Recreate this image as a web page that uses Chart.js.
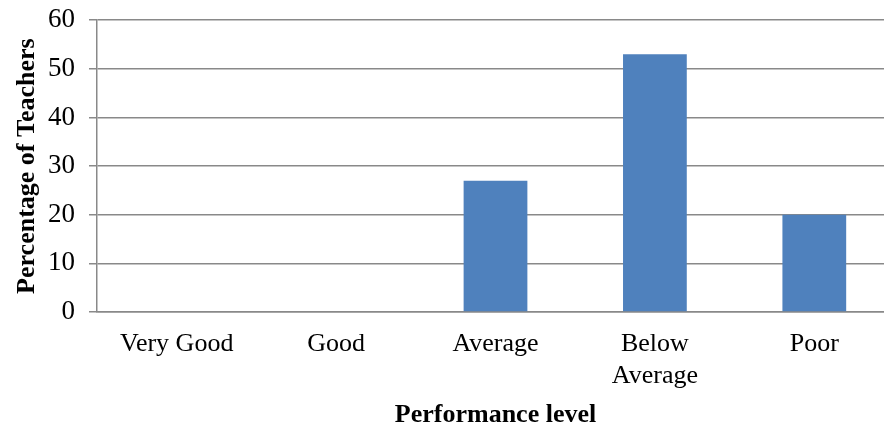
<!DOCTYPE html>
<html>
<head>
<meta charset="utf-8">
<script src="https://cdn.jsdelivr.net/npm/chart.js@4"></script>
<style>
  html, body { margin: 0; padding: 0; background: #fff; overflow: hidden; }
  #wrap { width: 884px; height: 426px; overflow: hidden; position: relative; }
  #perfChart { position: absolute; left: 0; top: -10px; }
</style>
</head>
<body>
<div id="wrap"><canvas id="perfChart" width="894" height="436"></canvas></div>
<script>
const ctx = document.getElementById('perfChart').getContext('2d');

// Chart values
const levels = ['Very Good', 'Good', 'Average', ['Below', 'Average'], 'Poor'];
const teachers = [0, 0, 27, 53, 20];
const yTicks = [0, 10, 20, 30, 40, 50, 60];

const gridColor = '#898989';
const serif = '"Liberation Serif", "Times New Roman", serif';

let chart = new Chart(ctx, {
  type: 'bar',
  data: {
    labels: levels,
    datasets: [
      {
        label: 'Percentage of Teachers',
        data: teachers,
        backgroundColor: '#4f81bd',
        borderWidth: 0,
        barPercentage: 1,
        categoryPercentage: 0.4
      }
    ]
  },
  options: {
    responsive: false,
    animation: false,
    layout: { padding: { top: 10, right: 0, left: 0, bottom: 0 } },
    plugins: { legend: { display: false }, tooltip: { enabled: false } },
    scales: {
      x: {
        grid: { display: false, drawTicks: false },
        border: { display: true, color: gridColor, width: 1.5 },
        ticks: {
          color: '#000',
          padding: 17,
          maxRotation: 0,
          autoSkip: false,
          font: { family: serif, size: 26, lineHeight: 1.2 }
        },
        title: {
          display: true,
          text: 'Performance level',
          color: '#000',
          padding: { top: 0, bottom: 0 },
          font: { family: serif, size: 26, weight: 'bold', lineHeight: 0.8 }
        },
        afterFit: (scale) => { scale.height = 114; }
      },
      y: {
        min: 0,
        max: 60,
        afterBuildTicks: (scale) => { scale.ticks = yTicks.map(v => ({ value: v })); },
        grid: { color: gridColor, lineWidth: 1.5, tickLength: 8, drawTicks: true },
        border: { display: true, color: gridColor, width: 1.5 },
        ticks: {
          color: '#000',
          padding: 14,
          font: { family: serif, size: 27 }
        },
        title: {
          display: true,
          text: 'Percentage of Teachers',
          color: '#000',
          padding: { top: 12, bottom: 0 },
          font: { family: serif, size: 26, weight: 'bold' }
        },
        afterFit: (scale) => { scale.width = 97; }
      }
    }
  }
});
</script>
</body>
</html>
